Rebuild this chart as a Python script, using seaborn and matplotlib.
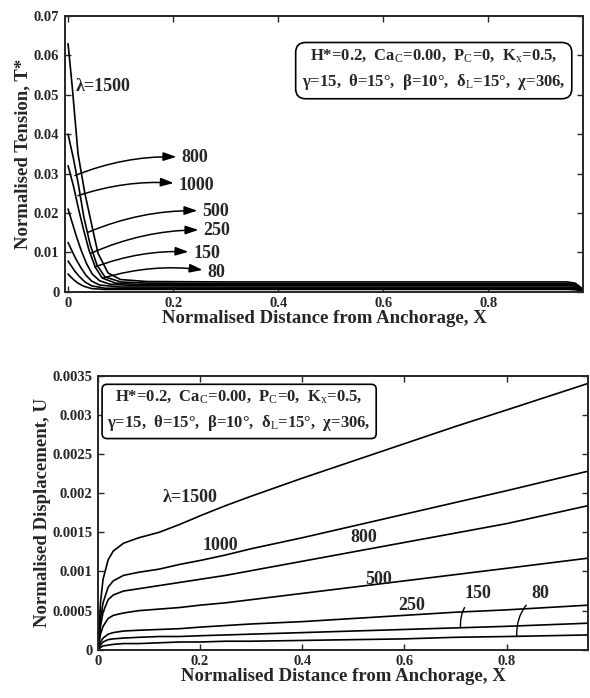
import pandas as pd
import matplotlib.pyplot as plt
import seaborn as sns

# Tension curves T*(X), one per lambda
lam_labels = ["1500", "1000", "800", "500", "250", "150", "80"]

x_t_1500 = [0, 0.008, 0.019, 0.032, 0.046, 0.057, 0.076, 0.1, 0.15, 0.3, 0.6, 0.95, 0.965, 0.975, 0.985]
t_1500 = [0.063, 0.052, 0.035, 0.025, 0.0164, 0.0098, 0.0048, 0.0031, 0.0026, 0.0025, 0.0025, 0.0025, 0.0022, 0.0012, 0.0002]
x_t_1000 = [0, 0.01, 0.02, 0.03, 0.042, 0.055, 0.07, 0.1, 0.15, 0.3, 0.6, 0.95, 0.965, 0.975, 0.985]
t_1000 = [0.040, 0.034, 0.027, 0.019, 0.012, 0.0068, 0.0038, 0.0025, 0.0022, 0.0021, 0.0021, 0.0021, 0.0019, 0.0010, 0.0002]
x_t_800 = [0, 0.01, 0.02, 0.03, 0.04, 0.052, 0.065, 0.09, 0.13, 0.3, 0.6, 0.95, 0.965, 0.975, 0.985]
t_800 = [0.032, 0.027, 0.021, 0.0155, 0.0105, 0.0062, 0.0035, 0.0022, 0.0019, 0.0019, 0.0019, 0.0019, 0.0017, 0.0009, 0.0002]
x_t_500 = [0, 0.008, 0.016, 0.025, 0.035, 0.046, 0.06, 0.08, 0.12, 0.3, 0.6, 0.95, 0.965, 0.975, 0.985]
t_500 = [0.021, 0.0175, 0.014, 0.0105, 0.0072, 0.0045, 0.0028, 0.0019, 0.0016, 0.0016, 0.0016, 0.0016, 0.0014, 0.0008, 0.0001]
x_t_250 = [0, 0.007, 0.015, 0.024, 0.034, 0.045, 0.06, 0.1, 0.3, 0.6, 0.95, 0.965, 0.975, 0.985]
t_250 = [0.0125, 0.0105, 0.0083, 0.0062, 0.0042, 0.0027, 0.0017, 0.0012, 0.0012, 0.0012, 0.0012, 0.0011, 0.0006, 0.0001]
x_t_150 = [0, 0.006, 0.013, 0.022, 0.032, 0.045, 0.07, 0.3, 0.6, 0.95, 0.965, 0.975, 0.985]
t_150 = [0.0078, 0.0066, 0.0052, 0.0038, 0.0025, 0.0015, 0.0009, 0.0009, 0.0009, 0.0009, 0.0008, 0.0004, 0.0001]
x_t_80 = [0, 0.005, 0.012, 0.02, 0.03, 0.045, 0.07, 0.3, 0.6, 0.95, 0.965, 0.975, 0.985]
t_80 = [0.0045, 0.0038, 0.0029, 0.0021, 0.0014, 0.0008, 0.0006, 0.0006, 0.0006, 0.0006, 0.0005, 0.0003, 0.0001]

# Displacement curves U(X)
x_u = [0, 0.005, 0.01, 0.02, 0.03, 0.05, 0.08, 0.12, 0.16, 0.2, 0.25, 0.3, 0.4, 0.5, 0.6, 0.7, 0.8, 0.96]
u_1500 = [0, 0.0006, 0.0009, 0.00115, 0.00126, 0.00136, 0.00143, 0.0015, 0.0016, 0.00171, 0.00184, 0.00196,
          0.00219, 0.00241, 0.00263, 0.00285, 0.00306, 0.0034]
u_1000 = [0, 0.0004, 0.0006, 0.0008, 0.00088, 0.00095, 0.00099, 0.00103, 0.00109, 0.00114, 0.00121, 0.00129,
          0.00143, 0.00158, 0.00173, 0.00188, 0.00203, 0.00228]
u_800 = [0, 0.0003, 0.00048, 0.00064, 0.0007, 0.00075, 0.00078, 0.00082, 0.00086, 0.0009, 0.00095, 0.00101,
         0.00113, 0.00125, 0.00137, 0.00149, 0.00161, 0.00184]
u_500 = [0, 0.0002, 0.0003, 0.0004, 0.00044, 0.00047, 0.0005, 0.00052, 0.00054, 0.00057, 0.0006, 0.00064,
         0.00072, 0.0008, 0.00088, 0.00096, 0.00104, 0.00117]
u_250 = [0, 0.0001, 0.00015, 0.0002, 0.00022, 0.00024, 0.00025, 0.00026, 0.00027, 0.00029, 0.00031, 0.00033,
         0.00036, 0.0004, 0.00044, 0.00048, 0.00051, 0.00057]
u_150 = [0, 0.00006, 0.0001, 0.00013, 0.00014, 0.00015, 0.00016, 0.00017, 0.00017, 0.00018, 0.00019, 0.0002,
         0.00022, 0.00024, 0.00026, 0.00028, 0.0003, 0.00034]
u_80 = [0, 0.00003, 0.00005, 0.00006, 0.00007, 0.00008, 0.00008, 0.00009, 0.0001, 0.0001, 0.00011, 0.00011,
        0.00012, 0.00013, 0.00014, 0.00016, 0.00017, 0.00019]

top_yticks = [0, 0.01, 0.02, 0.03, 0.04, 0.05, 0.06, 0.07]
top_yticklabels = ["0", "0.01", "0.02", "0.03", "0.04", "0.05", "0.06", "0.07"]
bot_yticks = [0, 0.0005, 0.001, 0.0015, 0.002, 0.0025, 0.003, 0.0035]
bot_yticklabels = ["0", "0.0005", "0.001", "0.0015", "0.002", "0.0025", "0.003", "0.0035"]
xticks = [0, 0.2, 0.4, 0.6, 0.8]
xticklabels = ["0", "0.2", "0.4", "0.6", "0.8"]

params_text = ("H*=0.2,  Ca$_\\mathrm{C}$=0.00,  P$_\\mathrm{C}$=0,  K$_\\mathrm{x}$=0.5,\n"
               "γ=15,  θ=15°,  β=10°,  δ$_\\mathrm{L}$=15°,  χ=306,")

# long-form tables
t_rows = []
for lab, xs, ts in zip(lam_labels,
                       [x_t_1500, x_t_1000, x_t_800, x_t_500, x_t_250, x_t_150, x_t_80],
                       [t_1500, t_1000, t_800, t_500, t_250, t_150, t_80]):
    for x, t in zip(xs, ts):
        t_rows.append({"lam": lab, "X": x, "T": t})
df_t = pd.DataFrame(t_rows)

u_rows = []
for lab, us in zip(lam_labels, [u_1500, u_1000, u_800, u_500, u_250, u_150, u_80]):
    for x, u in zip(x_u, us):
        u_rows.append({"lam": lab, "X": x, "U": u})
df_u = pd.DataFrame(u_rows)

sns.set_style("ticks")
plt.rcParams["font.family"] = ["Liberation Serif", "DejaVu Serif"]
plt.rcParams["mathtext.fontset"] = "custom"
plt.rcParams["mathtext.rm"] = "Liberation Serif"
plt.rcParams["mathtext.it"] = "Liberation Serif:italic"
plt.rcParams["mathtext.bf"] = "Liberation Serif:bold"

fig = plt.figure(figsize=(5.9, 6.98), dpi=100)
ax1 = fig.add_axes([0.110, 0.582, 0.878, 0.395])
ax2 = fig.add_axes([0.166, 0.069, 0.831, 0.393])

pal = {lab: "black" for lab in lam_labels}
sns.lineplot(data=df_t, x="X", y="T", hue="lam", hue_order=lam_labels, palette=pal,
             estimator=None, sort=False, legend=False, lw=1.2, ax=ax1)
sns.lineplot(data=df_u, x="X", y="U", hue="lam", hue_order=lam_labels, palette=pal,
             estimator=None, sort=False, legend=False, lw=1.2, ax=ax2)

tick_font = dict(fontsize=10.5, fontweight="bold")
lab_font = dict(fontsize=13.5, fontweight="bold")
num_size = 13

for ax in (ax1, ax2):
    ax.tick_params(direction="in", top=True, right=True, length=4, width=1, pad=4)
    for s in ax.spines.values():
        s.set_linewidth(1.4)
    ax.set_xticks(xticks)
    ax.set_xticklabels(xticklabels, **tick_font)
    ax.set_xlabel("Normalised Distance from Anchorage, X", labelpad=0, **lab_font)

# top panel
ax1.set_xlim(-0.006, 0.98)
ax1.set_ylim(0, 0.07)
ax1.set_yticks(top_yticks)
ax1.set_yticklabels(top_yticklabels, **tick_font)
ax1.set_ylabel("Normalised Tension, T*", labelpad=2, **lab_font)

ax1.text(0.014, 0.052, "λ=1500", fontsize=num_size, fontweight="bold", va="center")
arrow_labels = [("800", (0.013, 0.0295), (0.215, 0.034)),
                ("1000", (0.019, 0.0244), (0.21, 0.027)),
                ("500", (0.038, 0.0151), (0.255, 0.0204)),
                ("250", (0.044, 0.0098), (0.257, 0.0156)),
                ("150", (0.051, 0.0063), (0.238, 0.0098)),
                ("80", (0.067, 0.0035), (0.265, 0.0050))]
for lab, tail, pos in arrow_labels:
    ax1.annotate(lab, xy=tail, xytext=pos, fontsize=num_size, fontweight="bold",
                 ha="left", va="center",
                 arrowprops=dict(arrowstyle="<|-,head_length=0.6,head_width=0.2",
                                 color="black", lw=1.1, shrinkA=1, shrinkB=0,
                                 connectionstyle="arc3,rad=0.12"))

ax1.text(0.712, 0.805, params_text, transform=ax1.transAxes, ha="center", va="center",
         fontsize=12, fontweight="bold", linespacing=1.6,
         bbox=dict(boxstyle="round,pad=0.38,rounding_size=0.6", fc="white", ec="black", lw=1.2))

# bottom panel
ax2.set_xlim(0, 0.96)
ax2.set_ylim(0, 0.0035)
ax2.set_yticks(bot_yticks)
ax2.set_yticklabels(bot_yticklabels, **tick_font)
ax2.set_ylabel("Normalised Displacement, U", labelpad=1, **lab_font)

ax2.text(0.18, 0.00194, "λ=1500", fontsize=num_size, fontweight="bold", ha="center", va="center")
for lab, x, y in [("1000", 0.24, 0.00133), ("800", 0.52, 0.00143),
                  ("500", 0.55, 0.0009), ("250", 0.614, 0.00056)]:
    ax2.text(x, y, lab, fontsize=num_size, fontweight="bold", ha="center", va="center")
ax2.annotate("150", xy=(0.71, 0.00028), xytext=(0.745, 0.00072), fontsize=num_size,
             fontweight="bold", ha="center", va="center",
             arrowprops=dict(arrowstyle="-", color="black", lw=1.0, shrinkA=2, shrinkB=0,
                             connectionstyle="arc3,rad=0.3"))
ax2.annotate("80", xy=(0.82, 0.00017), xytext=(0.866, 0.00072), fontsize=num_size,
             fontweight="bold", ha="center", va="center",
             arrowprops=dict(arrowstyle="-", color="black", lw=1.0, shrinkA=2, shrinkB=0,
                             connectionstyle="arc3,rad=0.3"))

ax2.text(0.288, 0.872, params_text, transform=ax2.transAxes, ha="center", va="center",
         fontsize=12, fontweight="bold", linespacing=1.6,
         bbox=dict(boxstyle="round,pad=0.32,rounding_size=0.3", fc="white", ec="black", lw=1.2))

fig.savefig("out.png", dpi=100)
